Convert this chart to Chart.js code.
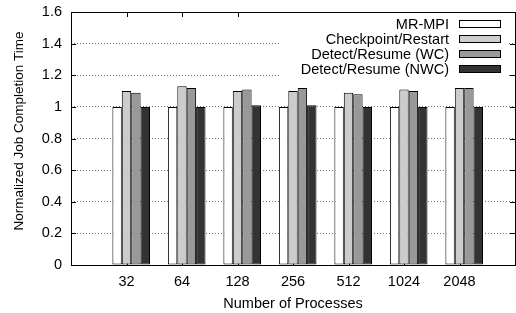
<!DOCTYPE html>
<html>
<head>
<meta charset="utf-8">
<script src="https://cdn.jsdelivr.net/npm/chart.js@4/dist/chart.umd.min.js"></script>
<style>
  html, body { margin: 0; padding: 0; background: #fff; }
  #wrap { width: 516px; height: 313px; }
</style>
</head>
<body>
<div id="wrap"><canvas id="chart" width="516" height="313"></canvas></div>
<script>
const processes = ["32", "64", "128", "256", "512", "1024", "2048"];
const seriesNames = ["MR-MPI", "Checkpoint/Restart", "Detect/Resume (WC)", "Detect/Resume (NWC)"];
const mrMpi = [1.00, 1.00, 1.00, 1.00, 1.00, 1.00, 1.00];
const checkpointRestart = [1.10, 1.13, 1.10, 1.10, 1.09, 1.11, 1.12];
const detectResumeWC = [1.09, 1.12, 1.11, 1.12, 1.08, 1.10, 1.12];
const detectResumeNWC = [1.00, 1.00, 1.01, 1.01, 1.00, 1.00, 1.00];
const fills = ["#ffffff", "#cccccc", "#999999", "#333333"];
const yTitle = "Normalized Job Completion Time";

const FONT = '"Liberation Sans", Arial, sans-serif';
Chart.defaults.font.family = FONT;
Chart.defaults.font.size = 14.5;
Chart.defaults.color = "#000";

// empty slot at both ends of the x range, like gnuplot's [-1:7]
const labels = ["", ...processes, ""];
const pad = arr => [null, ...arr, null];

const seriesValues = [mrMpi, checkpointRestart, detectResumeWC, detectResumeNWC];

// first dataset is an empty spacer so the cluster sits right of the tick
const datasets = [{ label: "", data: pad(processes.map(() => null)), backgroundColor: "#fff", borderWidth: 0 }];
seriesValues.forEach((vals, i) => {
  datasets.push({
    label: seriesNames[i],
    data: pad(vals),
    backgroundColor: fills[i],
    borderColor: "#000",
    borderWidth: 1,
    borderSkipped: false
  });
});

const frame = {
  id: "frame",
  beforeDatasetsDraw(chart) {
    const { ctx, chartArea: a, scales } = chart;
    ctx.save();
    ctx.strokeStyle = "#000";
    ctx.lineWidth = 1;
    ctx.beginPath();
    scales.y.ticks.forEach(t => {
      const y = Math.round(scales.y.getPixelForValue(t.value)) + 0.5;
      ctx.moveTo(a.left, y); ctx.lineTo(a.left + 5, y);
      ctx.moveTo(a.right, y); ctx.lineTo(a.right - 5, y);
    });
    processes.forEach((p, i) => {
      const x = Math.round(scales.x.getPixelForValue(i + 1)) + 0.5;
      ctx.moveTo(x, a.top); ctx.lineTo(x, a.top + 5);
      ctx.moveTo(x, a.bottom); ctx.lineTo(x, a.bottom - 5);
    });
    ctx.stroke();
    ctx.restore();
  },
  afterDatasetsDraw(chart) {
    const { ctx, chartArea: a } = chart;
    ctx.save();
    // legend, right aligned text with sample box on the right
    ctx.fillStyle = "#fff";
    ctx.fillRect(281, a.top + 1, 226, 65);
    ctx.font = "14.5px " + FONT;
    ctx.textAlign = "right";
    ctx.textBaseline = "middle";
    seriesNames.forEach((name, i) => {
      const y = 24 + i * 15;
      ctx.fillStyle = "#000";
      ctx.fillText(name, 449, y + 1);
      ctx.fillStyle = fills[i];
      ctx.fillRect(459.5, y - 3.5, 41, 7);
      ctx.strokeStyle = "#000";
      ctx.strokeRect(459.5, y - 3.5, 41, 7);
    });
    ctx.strokeStyle = "#000";
    ctx.lineWidth = 1;
    ctx.strokeRect(Math.round(a.left) + 0.5, Math.round(a.top) + 0.5,
      Math.round(a.right - a.left), Math.round(a.bottom - a.top));

    // y axis title, gnuplot puts it a little above the plot centre
    ctx.translate(19.5, 131);
    ctx.rotate(-Math.PI / 2);
    ctx.font = "13.5px " + FONT;
    ctx.textAlign = "center";
    ctx.textBaseline = "middle";
    ctx.fillStyle = "#000";
    ctx.fillText(yTitle, 0, 0);
    ctx.restore();
  }
};

new Chart(document.getElementById("chart"), {
  type: "bar",
  data: { labels, datasets },
  options: {
    responsive: false,
    animation: false,
    layout: { padding: { top: 12, right: 1, left: 0, bottom: 0 } },
    datasets: {
      bar: { categoryPercentage: 0.847, barPercentage: 1.0 }
    },
    plugins: {
      legend: { display: false },
      tooltip: { enabled: false }
    },
    scales: {
      x: {
        offset: false,
        grid: { display: false, drawTicks: false },
        border: { display: false },
        ticks: { padding: 8, maxRotation: 0, autoSkip: false },
        title: { display: true, text: "Number of Processes", padding: { top: 0, bottom: 0 } },
        afterFit(scale) { scale.height = 48; scale.paddingLeft = 0; scale.paddingRight = 0; }
      },
      y: {
        min: 0,
        max: 1.6,
        grid: {
          drawTicks: false,
          color: ctx => (ctx.tick.value > 0 && ctx.tick.value < 1.6) ? "#777" : "rgba(0,0,0,0)"
        },
        border: { display: false, dash: [1, 2] },
        ticks: {
          stepSize: 0.2,
          padding: 9,
          callback: v => String(+v.toFixed(1))
        },
        afterFit(scale) { scale.width = 71; scale.paddingTop = 0; scale.paddingBottom = 0; }
      }
    }
  },
  plugins: [frame]
});
</script>
</body>
</html>
